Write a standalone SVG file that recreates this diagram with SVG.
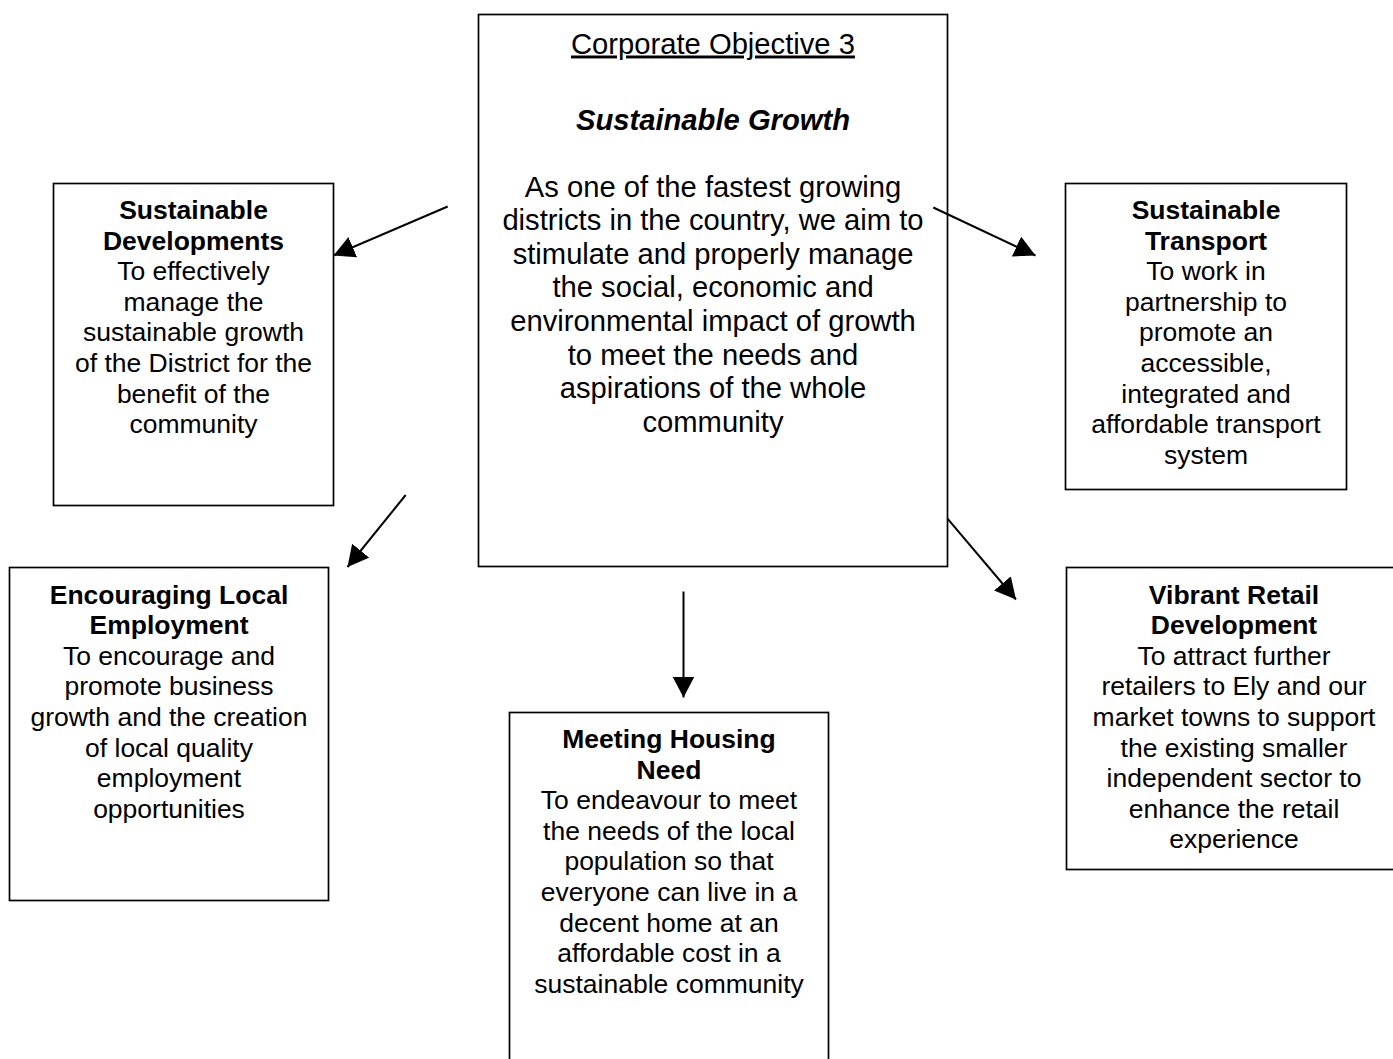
<svg xmlns="http://www.w3.org/2000/svg" width="1393" height="1059" viewBox="0 0 1393 1059">
<style>
.box{fill:#fff;stroke:#000;stroke-width:1.7}
text{font-family:"Liberation Sans",Arial,sans-serif;fill:#000;text-anchor:middle}
.s{font-size:26.5px}
.b{font-weight:bold}
.c{font-size:29.2px}
.con{stroke:#000;stroke-width:2;fill:none;marker-end:url(#ah)}
</style>
<defs>
<marker id="ah" markerUnits="userSpaceOnUse" markerWidth="24" markerHeight="24" refX="21" refY="11" orient="auto">
<path d="M0,0 L21,11 L0,22 z" fill="#000"/>
</marker>
</defs>
<rect width="1393" height="1059" fill="#fff"/>
<g id="center">
<rect class="box" x="478.5" y="14.5" width="469" height="552"/>
<text class="c" x="713" y="53.5" text-decoration="underline">Corporate Objective 3</text>
<text class="c b" x="713" y="129.5" font-style="italic">Sustainable Growth</text>
<text class="c" x="713" y="196.5">As one of the fastest growing</text>
<text class="c" x="713" y="230.1">districts in the country, we aim to</text>
<text class="c" x="713" y="263.7">stimulate and properly manage</text>
<text class="c" x="713" y="297.3">the social, economic and</text>
<text class="c" x="713" y="330.9">environmental impact of growth</text>
<text class="c" x="713" y="364.5">to meet the needs and</text>
<text class="c" x="713" y="398.1">aspirations of the whole</text>
<text class="c" x="713" y="431.7">community</text>
</g>
<g id="sustainable-developments">
<rect class="box" x="53.5" y="183.5" width="280" height="322"/>
<text class="s b" x="193.5" y="219">Sustainable</text>
<text class="s b" x="193.5" y="249.6">Developments</text>
<text class="s" x="193.5" y="280.2">To effectively</text>
<text class="s" x="193.5" y="310.8">manage the</text>
<text class="s" x="193.5" y="341.4">sustainable growth</text>
<text class="s" x="193.5" y="372">of the District for the</text>
<text class="s" x="193.5" y="402.6">benefit of the</text>
<text class="s" x="193.5" y="433.2">community</text>
</g>
<g id="sustainable-transport">
<rect class="box" x="1065.5" y="183.5" width="281" height="306"/>
<text class="s b" x="1206" y="219">Sustainable</text>
<text class="s b" x="1206" y="249.6">Transport</text>
<text class="s" x="1206" y="280.2">To work in</text>
<text class="s" x="1206" y="310.8">partnership to</text>
<text class="s" x="1206" y="341.4">promote an</text>
<text class="s" x="1206" y="372">accessible,</text>
<text class="s" x="1206" y="402.6">integrated and</text>
<text class="s" x="1206" y="433.2">affordable transport</text>
<text class="s" x="1206" y="463.8">system</text>
</g>
<g id="encouraging-local-employment">
<rect class="box" x="9.5" y="567.5" width="319" height="333"/>
<text class="s b" x="169" y="603.5">Encouraging Local</text>
<text class="s b" x="169" y="634.1">Employment</text>
<text class="s" x="169" y="664.7">To encourage and</text>
<text class="s" x="169" y="695.3">promote business</text>
<text class="s" x="169" y="725.9">growth and the creation</text>
<text class="s" x="169" y="756.5">of local quality</text>
<text class="s" x="169" y="787.1">employment</text>
<text class="s" x="169" y="817.7">opportunities</text>
</g>
<g id="meeting-housing-need">
<rect class="box" x="509.5" y="712.5" width="319" height="360"/>
<text class="s b" x="669" y="748">Meeting Housing</text>
<text class="s b" x="669" y="778.6">Need</text>
<text class="s" x="669" y="809.2">To endeavour to meet</text>
<text class="s" x="669" y="839.8">the needs of the local</text>
<text class="s" x="669" y="870.4">population so that</text>
<text class="s" x="669" y="901">everyone can live in a</text>
<text class="s" x="669" y="931.6">decent home at an</text>
<text class="s" x="669" y="962.2">affordable cost in a</text>
<text class="s" x="669" y="992.8">sustainable community</text>
</g>
<g id="vibrant-retail-development">
<rect class="box" x="1066.5" y="567.5" width="340" height="302"/>
<text class="s b" x="1234" y="603.5">Vibrant Retail</text>
<text class="s b" x="1234" y="634.1">Development</text>
<text class="s" x="1234" y="664.7">To attract further</text>
<text class="s" x="1234" y="695.3">retailers to Ely and our</text>
<text class="s" x="1234" y="725.9">market towns to support</text>
<text class="s" x="1234" y="756.5">the existing smaller</text>
<text class="s" x="1234" y="787.1">independent sector to</text>
<text class="s" x="1234" y="817.7">enhance the retail</text>
<text class="s" x="1234" y="848.3">experience</text>
</g>
<g id="connectors">
<line class="con" x1="447.7" y1="206.5" x2="333.5" y2="255.5"/>
<line class="con" x1="933.3" y1="207.5" x2="1035.5" y2="255.5"/>
<line class="con" x1="405.7" y1="495" x2="347.5" y2="567"/>
<line class="con" x1="947.3" y1="518.3" x2="1016" y2="599.5"/>
<line class="con" x1="683.5" y1="591.5" x2="683.5" y2="697.5"/>
</g>
</svg>
